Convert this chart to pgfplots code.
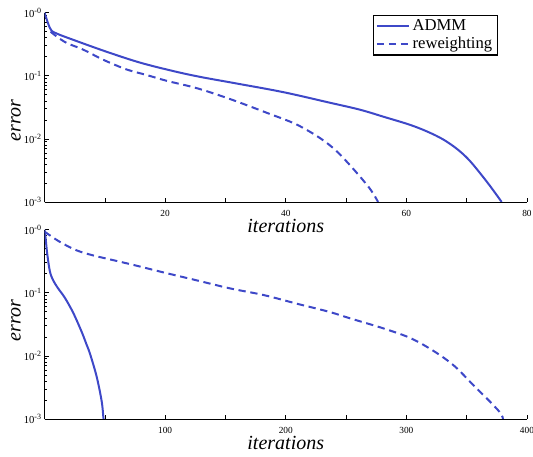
\documentclass[border=0pt]{standalone}
\usepackage{fontspec}
\setmainfont{Liberation Serif}
\usepackage{pgfplots}
\pgfplotsset{compat=1.18}
\definecolor{lineblue}{RGB}{62,72,200}

\begin{document}
\begin{tikzpicture}
\path[use as bounding box] (-33.4pt,-191.25pt) rectangle (366.4pt,151.5pt);

% top panel
\begin{axis}[
  scale only axis, width=361.9pt, height=142pt,
  ymode=log, ymin=1e-3, ymax=1,
  xmin=0, xmax=80,
  axis x line*=bottom, axis y line*=left,
  tick align=inside,
  major tick length=3pt, minor tick length=1.5pt,
  xtick={10,20,...,80}, xticklabels={,20,,40,,60,,80},
  ytick={1e-3,1e-2,1e-1,1},
  yticklabels={10\textsuperscript{-3},10\textsuperscript{-2},10\textsuperscript{-1},10\textsuperscript{-0}},
  yticklabel style={font=\fontsize{8}{9}\selectfont, xshift=1.5pt},
  xticklabel style={font=\fontsize{7}{8}\selectfont, yshift=-3pt},
  xlabel={iterations}, ylabel={error},
  label style={font=\fontsize{15}{16}\selectfont\itshape},
  xlabel style={at={(axis description cs:0.5,-0.162)}, anchor=base},
  ylabel style={at={(axis description cs:-0.059,0.43)}, anchor=center},
  axis line style={black, line width=0.6pt},
  every tick/.style={black, line width=0.5pt},
  legend style={at={(0.94,0.99)}, anchor=north east, draw=black, line width=0.8pt,
    font=\fontsize{12.5}{12.5}\selectfont, inner xsep=2pt, inner ysep=1.5pt,
    row sep=-1pt, cells={anchor=west}},
  legend image code/.code={\draw[#1] (0pt,0pt) -- (24pt,0pt);},
]
\addplot[lineblue, line width=1.5pt, smooth, tension=0.55] coordinates {
 (0,1.0) (0.9,0.57) (1.74,0.48) (4.8,0.37) (10.3,0.24) (15.8,0.162)
 (21.3,0.119) (25.8,0.096) (32,0.075) (39.6,0.055) (47,0.038)
 (52.3,0.029) (56.5,0.022) (60.6,0.0167) (63.5,0.013) (66.1,0.0098)
 (68.5,0.0068) (70.6,0.0044) (73.5,0.002) (75.8,0.001)};
\addlegendentry{ADMM}
\addplot[lineblue, line width=1.5pt, dash pattern=on 5.5pt off 3.5pt, smooth, tension=0.55] coordinates {
 (1,0.5) (2,0.42) (3.7,0.33) (6.4,0.26) (9.7,0.18) (13.6,0.126)
 (16.9,0.103) (20.3,0.083) (24.1,0.068) (26.9,0.057) (31.3,0.041)
 (36.8,0.026) (42.4,0.0158) (47.9,0.0071) (53.4,0.0019) (55.3,0.001)};
\addlegendentry{reweighting}
\end{axis}

% bottom panel
\begin{axis}[at={(0,-162.75pt)},
  scale only axis, width=361.9pt, height=142pt,
  ymode=log, ymin=1e-3, ymax=1,
  xmin=0, xmax=400,
  axis x line*=bottom, axis y line*=left,
  tick align=inside,
  major tick length=3pt, minor tick length=1.5pt,
  xtick={50,100,...,400}, xticklabels={,100,,200,,300,,400},
  ytick={1e-3,1e-2,1e-1,1},
  yticklabels={10\textsuperscript{-3},10\textsuperscript{-2},10\textsuperscript{-1},10\textsuperscript{-0}},
  yticklabel style={font=\fontsize{8}{9}\selectfont, xshift=1.5pt},
  xticklabel style={font=\fontsize{7}{8}\selectfont, yshift=-3pt},
  xlabel={iterations}, ylabel={error},
  label style={font=\fontsize{15}{16}\selectfont\itshape},
  xlabel style={at={(axis description cs:0.5,-0.162)}, anchor=base},
  ylabel style={at={(axis description cs:-0.059,0.52)}, anchor=center},
  axis line style={black, line width=0.6pt},
  every tick/.style={black, line width=0.5pt},
]
\addplot[lineblue, line width=1.5pt, smooth, tension=0.55] coordinates {
 (0,1.0) (1,0.7) (2.2,0.42) (4.4,0.22) (7.1,0.158) (11.3,0.117)
 (16.9,0.083) (23.8,0.048) (30.8,0.024) (34.9,0.015) (37.7,0.0108)
 (43.2,0.0047) (47.4,0.0019) (48.8,0.00105) (49,0.001)};
\addplot[lineblue, line width=1.5pt, dash pattern=on 5.5pt off 3.5pt, smooth, tension=0.55] coordinates {
 (0,0.93) (12.7,0.64) (26.6,0.47) (40.4,0.39) (62.6,0.31) (79.2,0.26)
 (98.6,0.21) (126.3,0.157) (154,0.117) (181.6,0.092) (209.3,0.067)
 (235.7,0.050) (253.9,0.039) (281.6,0.027) (303.7,0.019) (323,0.0118)
 (339.8,0.0069) (356.4,0.0033) (370.3,0.0018) (378.6,0.0012) (380,0.001)};
\end{axis}
\end{tikzpicture}
\end{document}
